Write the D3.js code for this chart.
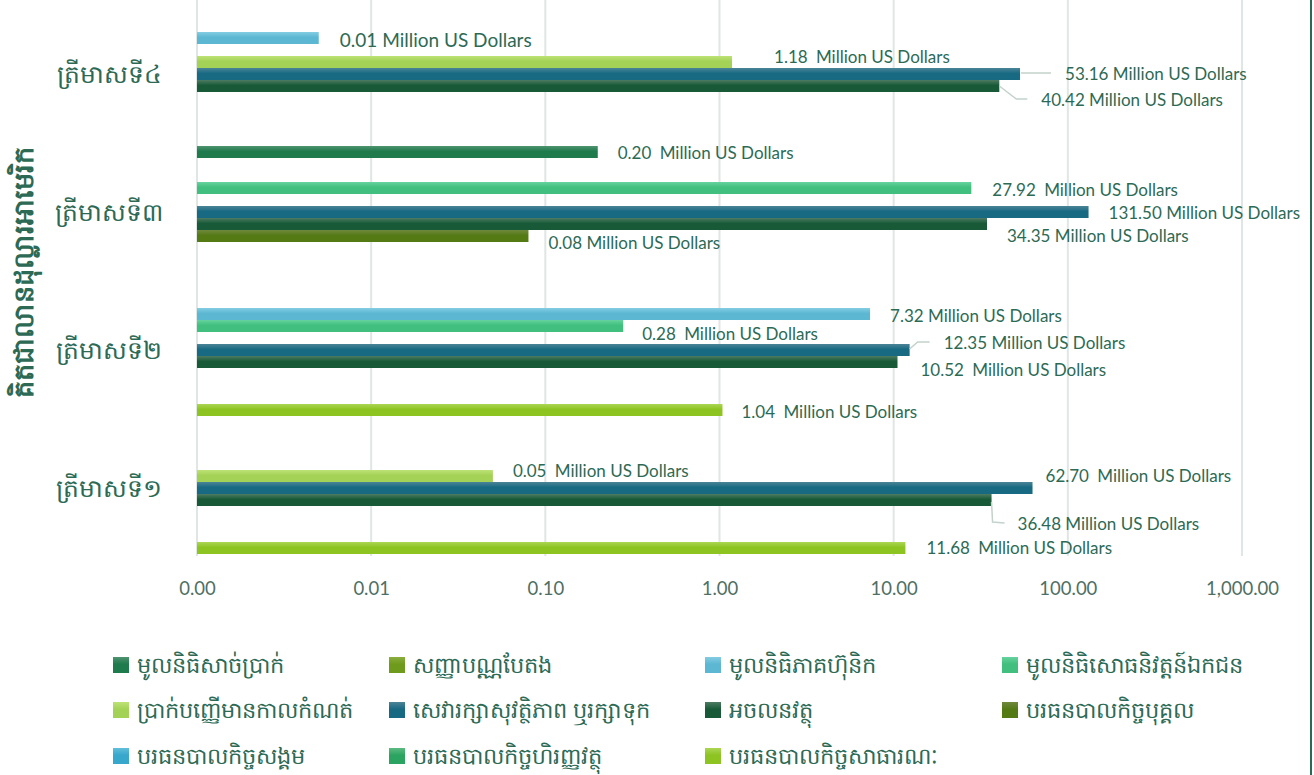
<!DOCTYPE html>
<html>
<head>
<meta charset="utf-8">
<script src="https://cdn.jsdelivr.net/npm/d3@7"></script>
<style>
  body { margin: 0; background: #fff; }
  svg { display: block; }
</style>
</head>
<body>
<div id="chart-area"></div>
<script>
// quarters, top to bottom
const quarters = ["ត្រីមាសទី៤", "ត្រីមាសទី៣", "ត្រីមាសទី២", "ត្រីមាសទី១"]

const seriesNames = [
  "មូលនិធិសាច់ប្រាក់", "សញ្ញាបណ្ណបែតង", "មូលនិធិភាគហ៊ុនិក", "មូលនិធិសោធនិវត្តន៍ឯកជន",
  "ប្រាក់បញ្ញើមានកាលកំណត់", "សេវារក្សាសុវត្ថិភាព ឬរក្សាទុក", "អចលនវត្ថុ", "បរធនបាលកិច្ចបុគ្គល",
  "បរធនបាលកិច្ចសង្គម", "បរធនបាលកិច្ចហិរញ្ញវត្ថុ", "បរធនបាលកិច្ចសាធារណៈ"
]

// values in million USD, one entry per series (null = no bar)
const q4Values = [null, null, 0.005, null, 1.18, 53.16, 40.42, null, null, null, null]
const q3Values = [0.20, null, null, 27.92, null, 131.50, 34.35, 0.08, null, null, null]
const q2Values = [null, null, 7.32, 0.28, null, 12.35, 10.52, null, null, null, 1.04]
const q1Values = [null, null, null, null, 0.05, 62.70, 36.48, null, null, null, 11.68]
const quarterValues = [q4Values, q3Values, q2Values, q1Values]

const tickValues = [0.001, 0.01, 0.1, 1, 10, 100, 1000]
const unitLabel = "Million US Dollars"

// colours: [top, bottom] of each bar's gradient
const seriesColors = [
  ["#4f9470", "#1f7a4c"], ["#8aae3e", "#6f9b1c"], ["#84cde2", "#5cb7d3"], ["#66d39e", "#40bf7e"],
  ["#bde276", "#a4d256"], ["#4b8497", "#186a83"], ["#4d7b62", "#185a37"], ["#70893e", "#547a14"],
  ["#62bedb", "#37a7cb"], ["#5cbb82", "#2ba461"], ["#acd654", "#8dc422"]
]

// label placement relative to the bar end: quarter, series, dx, dy, gap, font size, leader points
const labelPlacement = [
  [0, 2, 21, 1, 0, 19, null],
  [0, 4, 42, -6, 4, 17, null],
  [0, 5, 45, -1, 0, 17, [[1, -1], [31, -1]]],
  [0, 6, 42, 13, 0, 17, [[0, 0], [17, 13], [28, 13]]],
  [1, 0, 20, 0, 4, 17, null],
  [1, 3, 21, 1, 4, 17, null],
  [1, 5, 20, 0, 0, 17, null],
  [1, 6, 20, 11, 0, 17, null],
  [1, 7, 20, 6, 0, 17, null],
  [2, 2, 20, 1, 0, 17, null],
  [2, 3, 19, 7, 4, 17, null],
  [2, 5, 34, -8, 0, 17, [[0, -1], [8, -8], [20, -8]]],
  [2, 6, 23, 7, 4, 17, null],
  [2, 10, 19, 1, 4, 17, null],
  [3, 4, 20, -6, 4, 17, null],
  [3, 5, 13, -13, 4, 17, null],
  [3, 6, 26, 23, 0, 17, [[0, 2], [1, 22], [13, 23]]],
  [3, 10, 21, -1, 4, 17, null]
]

const width = 1314, height = 775
const textColor = "#2d6a55"
const labelFont = "Lato, 'Open Sans', sans-serif"

const svg = d3.select("#chart-area")
  .append("svg")
    .attr("width", width)
    .attr("height", height)

// gradients
const defs = svg.append("defs")
seriesColors.forEach((c, i) => {
  const grad = defs.append("linearGradient")
    .attr("id", `grad${i}`)
    .attr("x1", 0).attr("y1", 0).attr("x2", 0).attr("y2", 1)
  grad.append("stop").attr("offset", "0%").attr("stop-color", c[0])
  grad.append("stop").attr("offset", "45%").attr("stop-color", c[1])
  grad.append("stop").attr("offset", "100%").attr("stop-color", c[1])
})

// scales
const x = d3.scaleLog()
  .base(10)
  .domain([0.001, 1000])
  .range([197, 1242])

const y = d3.scaleBand()
  .domain(quarters)
  .range([5, 557])

const ySub = d3.scaleBand()
  .domain(d3.range(seriesNames.length))
  .range([3, y.bandwidth() - 3])

// grid
const gridGroup = svg.append("g")
gridGroup.selectAll("line")
  .data(tickValues)
  .enter()
  .append("line")
    .attr("x1", d => x(d))
    .attr("x2", d => x(d))
    .attr("y1", 0)
    .attr("y2", 556)
    .attr("stroke", "#dfe6e3")
    .attr("stroke-width", 2)

// x axis
const xAxisCall = d3.axisBottom(x)
  .tickValues(tickValues)
  .tickSize(0)
  .tickFormat(d3.format(",.2f"))

const xAxisGroup = svg.append("g")
  .attr("transform", "translate(0, 579)")
  .call(xAxisCall)
xAxisGroup.select(".domain").remove()
xAxisGroup.selectAll("text")
  .attr("font-family", labelFont)
  .attr("font-size", "18.5px")
  .attr("fill", "#4f6f64")

// bars
const barData = []
quarterValues.forEach((vals, qi) => {
  vals.forEach((v, si) => {
    if (v !== null) barData.push({ q: quarters[qi], qi: qi, s: si, value: v })
  })
})

svg.append("g").selectAll("rect")
  .data(barData)
  .enter()
  .append("rect")
    .attr("x", x(0.001))
    .attr("y", d => y(d.q) + ySub(d.s))
    .attr("width", d => x(d.value) - x(0.001))
    .attr("height", ySub.bandwidth())
    .attr("fill", d => `url(#grad${d.s})`)

// data labels
const labelGroup = svg.append("g")
labelPlacement.forEach(([qi, si, dx, dy, gap, size, leader]) => {
  const v = quarterValues[qi][si]
  const bx = x(v)
  const by = y(quarters[qi]) + ySub(si) + ySub.bandwidth() / 2
  if (leader) {
    labelGroup.append("polyline")
      .attr("points", leader.map(p => `${bx + p[0]},${by + p[1]}`).join(" "))
      .attr("fill", "none")
      .attr("stroke", "#c3d2cb")
      .attr("stroke-width", 1.5)
  }
  const t = labelGroup.append("text")
    .attr("x", bx + dx)
    .attr("y", by + dy)
    .attr("dominant-baseline", "central")
    .attr("font-family", labelFont)
    .attr("font-size", size + "px")
    .attr("fill", textColor)
  t.append("tspan").text(v.toFixed(2))
  t.append("tspan").attr("dx", gap).text(" " + unitLabel)
})

// category labels
svg.append("g").selectAll("text")
  .data(quarters)
  .enter()
  .append("text")
    .attr("x", 109)
    .attr("y", d => y(d) + y.bandwidth() / 2)
    .attr("text-anchor", "middle")
    .attr("dominant-baseline", "central")
    .attr("font-size", "25px")
    .attr("fill", textColor)
    .text(d => d)

// y title
svg.append("text")
  .attr("transform", "translate(24, 272) rotate(-90)")
  .attr("text-anchor", "middle")
  .attr("dominant-baseline", "central")
  .attr("font-size", "27px")
  .attr("font-weight", "bold")
  .attr("fill", textColor)
  .text("គិតជាលានដុល្លារអាមេរិក")

// legend
const legendCols = [113, 389, 705, 1002]
const legendRows = [665, 710, 756]
const legend = svg.append("g")
seriesNames.forEach((name, i) => {
  const row = legend.append("g")
    .attr("transform", `translate(${legendCols[i % 4]}, ${legendRows[Math.floor(i / 4)]})`)
  row.append("rect")
    .attr("x", 0)
    .attr("y", -8)
    .attr("width", 16)
    .attr("height", 16)
    .attr("fill", `url(#grad${i})`)
  row.append("text")
    .attr("x", 24)
    .attr("y", 0)
    .attr("dominant-baseline", "central")
    .attr("font-size", "22.5px")
    .attr("fill", textColor)
    .text(name)
})

// right border
svg.append("line")
  .attr("x1", 1311).attr("x2", 1311)
  .attr("y1", 0).attr("y2", height)
  .attr("stroke", "#2d6a55")
  .attr("stroke-width", 2)
</script>
</body>
</html>
